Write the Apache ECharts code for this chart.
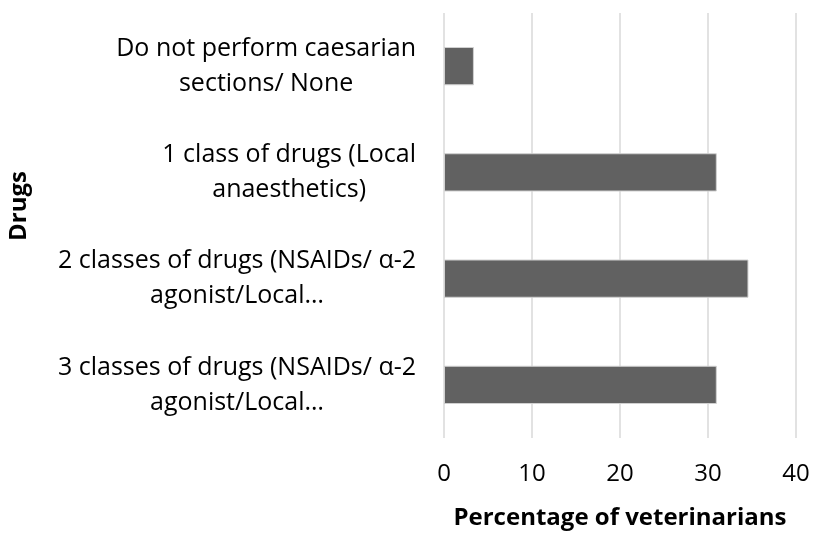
<!DOCTYPE html>
<html><head><meta charset="utf-8">
<script src="https://cdn.jsdelivr.net/npm/echarts@6/dist/echarts.min.js"></script>
<style>html,body{margin:0;padding:0;background:#fff}#c{width:814px;height:535px}</style>
</head><body><div id="c"></div>
<script>
const categories = [
  "Do not perform caesarian\nsections/ None",
  "1 class of drugs (Local\nanaesthetics)",
  "2 classes of drugs (NSAIDs/ \u03b1-2\nagonist/Local\u2026",
  "3 classes of drugs (NSAIDs/ \u03b1-2\nagonist/Local\u2026"
];
const values = [3.4, 31.0, 34.6, 31.0];
const xTicks = [0, 10, 20, 30, 40];
const xTitle = "Percentage of veterinarians";
const yTitle = "Drugs";

const FONT = "Open Sans";
const chart = echarts.init(document.getElementById('c'), null, {renderer: 'canvas'});
chart.setOption({
  animation: false,
  backgroundColor: '#fff',
  grid: {left: 444, right: 18, top: 13, bottom: 95, containLabel: false},
  xAxis: {
    type: 'value', min: xTicks[0], max: xTicks[xTicks.length - 1], interval: 10,
    axisLine: {show: false}, axisTick: {show: false},
    splitLine: {show: true, lineStyle: {color: '#d9d9d9', width: 1.5}},
    axisLabel: {color: '#000', fontFamily: FONT, fontSize: 24, margin: 24},
    name: xTitle, nameLocation: 'middle', nameGap: 68,
    nameTextStyle: {color: '#000', fontFamily: FONT, fontSize: 24, fontWeight: 'bold'}
  },
  yAxis: {
    type: 'category', data: categories, inverse: true,
    axisLine: {show: false}, axisTick: {show: false},
    axisLabel: {
      margin: 28, align: 'right', color: '#000',
      formatter: function (v) { return v.split('\n').map(s => '{a|' + s + '}').join('\n'); },
      rich: {a: {align: 'center', fontFamily: FONT, fontSize: 25, lineHeight: 35, color: '#000'}}
    }
  },
  graphic: [{
    type: 'text', left: 7, top: 171, rotation: Math.PI / 2,
    style: {text: yTitle, fontFamily: FONT, fontSize: 24, fontWeight: 'bold', fill: '#000'}
  }],
  series: [{
    type: 'bar', data: values, barCategoryGap: '64%',
    itemStyle: {color: '#616161', borderColor: '#d0d0d0', borderWidth: 1}
  }]
});
</script></body></html>
